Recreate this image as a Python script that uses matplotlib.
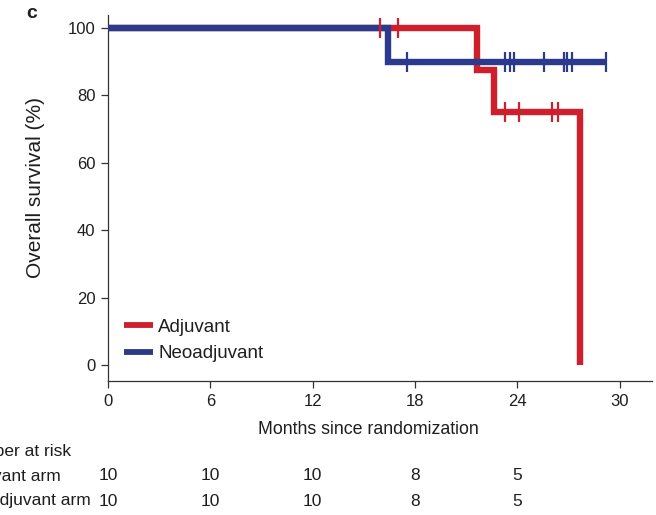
import numpy as np
import matplotlib
matplotlib.use('Agg')
from matplotlib import pyplot as plt
from matplotlib.transforms import blended_transform_factory

plt.rcParams['font.family'] = ['Liberation Sans', 'DejaVu Sans']

# Kaplan-Meier steps: event times (months) and survival (%) after each event
adj_times = [0, 21.67, 22.61, 27.71]
adj_surv = [100, 87.5, 75, 0]
adj_censor = [15.97, 16.99, 23.31, 24.08, 26.02, 26.37]

neo_times = [0, 16.40]
neo_surv = [100, 90]
neo_censor = [17.52, 23.31, 23.55, 23.79, 25.55, 26.72, 26.95, 27.24, 29.23]

risk_months = [0, 6, 12, 18, 24]
adj_at_risk = [10, 10, 10, 8, 5]
neo_at_risk = [10, 10, 10, 8, 5]

x_ticks = [0, 6, 12, 18, 24, 30]
y_ticks = [0, 20, 40, 60, 80, 100]

RED = '#d01f2c'
BLUE = '#2c3a8e'
TXT = '#1e1e1e'


def km_steps(times, surv, censor):
    end = max(times[-1], max(censor))
    x = list(times) + [end]
    y = list(surv) + [surv[-1]]
    idx = np.searchsorted(times, censor, side='right') - 1
    return x, y, np.asarray(censor), np.asarray(surv, dtype=float)[idx]


W, H = 656, 515
fig = plt.figure(figsize=(W/100, H/100), dpi=100)
left, right, bottom, top = 108, 652, 381, 15
ax = fig.add_axes([left/W, 1 - bottom/H, (right - left)/W, (bottom - top)/H])

ax.set_xlim(0, (right - left)/17.05)
ax.set_ylim(-(bottom - 365)/3.37, 100 + (28 - top)/3.37)

ax_x, ax_y, acx, acy = km_steps(adj_times, adj_surv, adj_censor)
nx, ny, ncx, ncy = km_steps(neo_times, neo_surv, neo_censor)

ax.step(ax_x, ax_y, where='post', color=RED, lw=4.6, zorder=2,
        solid_joinstyle='miter', solid_capstyle='butt', label='Adjuvant')
ax.step(nx, ny, where='post', color=BLUE, lw=4.6, zorder=3,
        solid_joinstyle='miter', solid_capstyle='butt', label='Neoadjuvant')
ax.plot(acx, acy, ls='none', marker='|', ms=14, mew=1.6, color=RED, zorder=4)
ax.plot(ncx, ncy, ls='none', marker='|', ms=14, mew=1.6, color=BLUE, zorder=5)

for s in ['top', 'right']:
    ax.spines[s].set_visible(False)
for s in ['left', 'bottom']:
    ax.spines[s].set_color('#333333')
    ax.spines[s].set_linewidth(0.9)

ax.set_xticks(x_ticks)
ax.set_yticks(y_ticks)
ax.tick_params(direction='out', length=5, width=0.9, color='#333333',
               labelsize=12, labelcolor=TXT, pad=4)

ax.set_xlabel('Months since randomization', fontsize=12.8, color=TXT)
ax.xaxis.set_label_coords((368 - left)/(right - left), -0.11)
ax.set_ylabel('Overall survival (%)', fontsize=15, color=TXT)
ax.yaxis.set_label_coords(-0.116, 0.53)

leg = ax.legend(loc='upper left', bbox_to_anchor=(0.029, 0.170), frameon=False,
                fontsize=13.5, handlelength=1.55, handletextpad=0.28,
                labelspacing=0.5, borderpad=0, borderaxespad=0)
for line in leg.get_lines():
    line.set_linewidth(4.2)
for t in leg.get_texts():
    t.set_color(TXT)

fig.text(32/W, 1 - 14/H, 'c', fontsize=14, fontweight='bold', color=TXT,
         ha='center', va='center')

# number-at-risk table under the axis
tr = blended_transform_factory(ax.transData, fig.transFigure)
row_y = [1 - 451/H, 1 - 476/H, 1 - 501/H]
fs = 12.5
fig.canvas.draw()
renderer = fig.canvas.get_renderer()
probe = fig.text(91/W, row_y[2], 'Neoadjuvant arm', fontsize=fs, color=TXT,
                 ha='right', va='center')
x0 = fig.transFigure.inverted().transform(probe.get_window_extent(renderer))[0][0]
probe.set_ha('left')
probe.set_x(x0)
fig.text(x0, row_y[0], 'Number at risk', fontsize=fs, color=TXT, ha='left', va='center')
fig.text(x0, row_y[1], 'Adjuvant arm', fontsize=fs, color=TXT, ha='left', va='center')
for m, a, n in zip(risk_months, adj_at_risk, neo_at_risk):
    fig.text(m, row_y[1], str(a), transform=tr, fontsize=fs, color=TXT,
             ha='center', va='center')
    fig.text(m, row_y[2], str(n), transform=tr, fontsize=fs, color=TXT,
             ha='center', va='center')

fig.savefig('out.png', dpi=100)
